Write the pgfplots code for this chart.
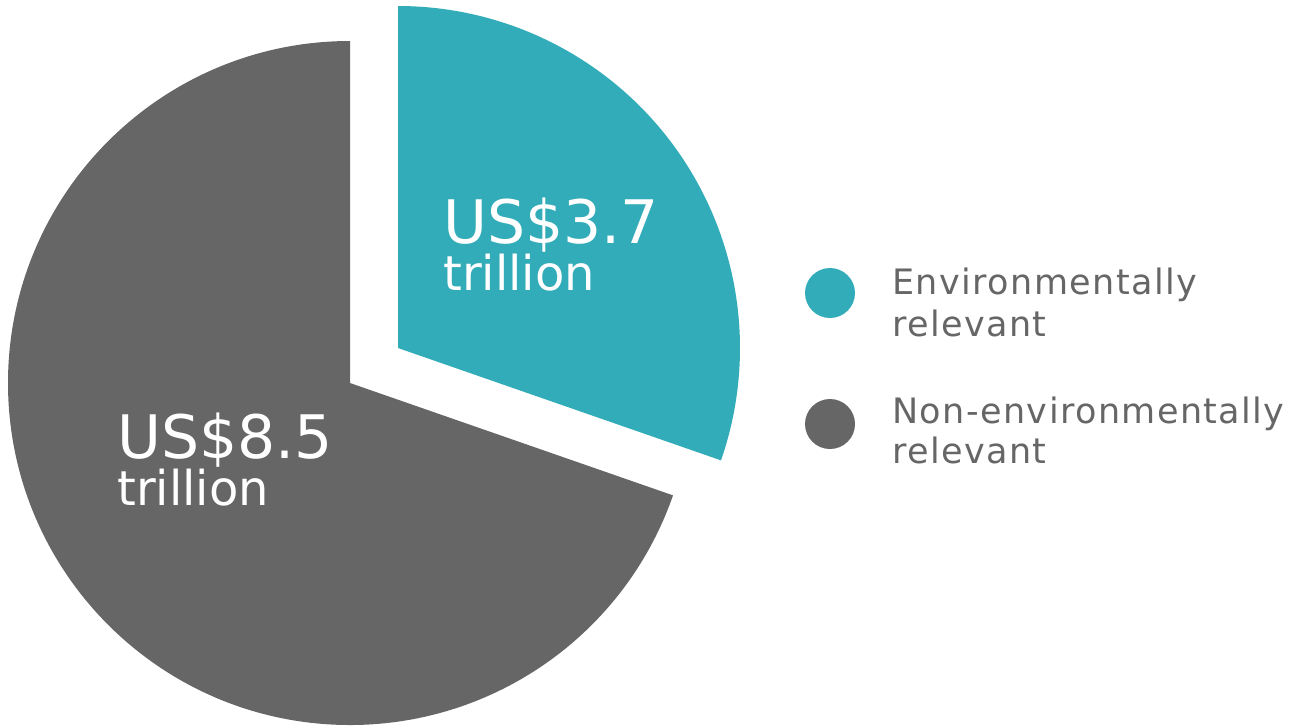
\documentclass[border=0pt]{standalone}
\usepackage{pgfplots}
\pgfplotsset{compat=1.18}
\usepackage{fontspec}
\setmainfont{DejaVu Sans}
\newfontfamily\legfont{DejaVu Sans}[LetterSpace=4]
\definecolor{envteal}{HTML}{32ACB9}
\definecolor{nongray}{HTML}{666666}
\definecolor{legtext}{HTML}{666666}
% data (US$ trillion)
\def\valEnv{3.7}
\def\valNon{8.5}
\begin{document}
\begin{tikzpicture}
\pgfmathsetmacro{\angEnv}{360*\valEnv/(\valEnv+\valNon)}
\pgfmathsetmacro{\endEnv}{90-\angEnv}
\pgfmathsetmacro{\endNon}{450-\angEnv}
\begin{axis}[
  hide axis, scale only axis,
  width=653pt, height=362.5pt,
  xmin=0, xmax=1306, ymin=0, ymax=725, y dir=reverse,
  clip=false,
]
\path (rel axis cs:0,0) rectangle (rel axis cs:1,1);
% non-environmentally relevant slice
\fill[nongray] (axis cs:350,383) -- ++(90:171pt) arc[start angle=90, end angle=\endNon, radius=171pt] -- cycle;
% environmentally relevant slice (exploded)
\fill[envteal] (axis cs:398,348) -- ++(90:171pt) arc[start angle=90, end angle=\endEnv, radius=171pt] -- cycle;
% slice labels
\node[anchor=base west, inner sep=0pt, text=white, font=\fontsize{30}{30}\selectfont] at (axis cs:443,243) {US\$3.7};
\node[anchor=base west, inner sep=0pt, text=white, font=\fontsize{24}{24}\selectfont] at (axis cs:443,290) {trillion};
\node[anchor=base west, inner sep=0pt, text=white, font=\fontsize{30}{30}\selectfont] at (axis cs:117,458) {US\$8.5};
\node[anchor=base west, inner sep=0pt, text=white, font=\fontsize{24}{24}\selectfont] at (axis cs:117,505) {trillion};
% legend
\fill[envteal] (axis cs:830,293) circle[radius=12.5pt];
\fill[nongray] (axis cs:830,424) circle[radius=12.5pt];
\node[anchor=base west, inner sep=0pt, text=legtext, font=\legfont\fontsize{17.5}{17.5}\selectfont] at (axis cs:892,294) {Environmentally};
\node[anchor=base west, inner sep=0pt, text=legtext, font=\legfont\fontsize{17.5}{17.5}\selectfont] at (axis cs:892,336) {relevant};
\node[anchor=base west, inner sep=0pt, text=legtext, font=\legfont\fontsize{17.5}{17.5}\selectfont] at (axis cs:892,423) {Non-environmentally};
\node[anchor=base west, inner sep=0pt, text=legtext, font=\legfont\fontsize{17.5}{17.5}\selectfont] at (axis cs:892,463) {relevant};
\end{axis}
\end{tikzpicture}
\end{document}
